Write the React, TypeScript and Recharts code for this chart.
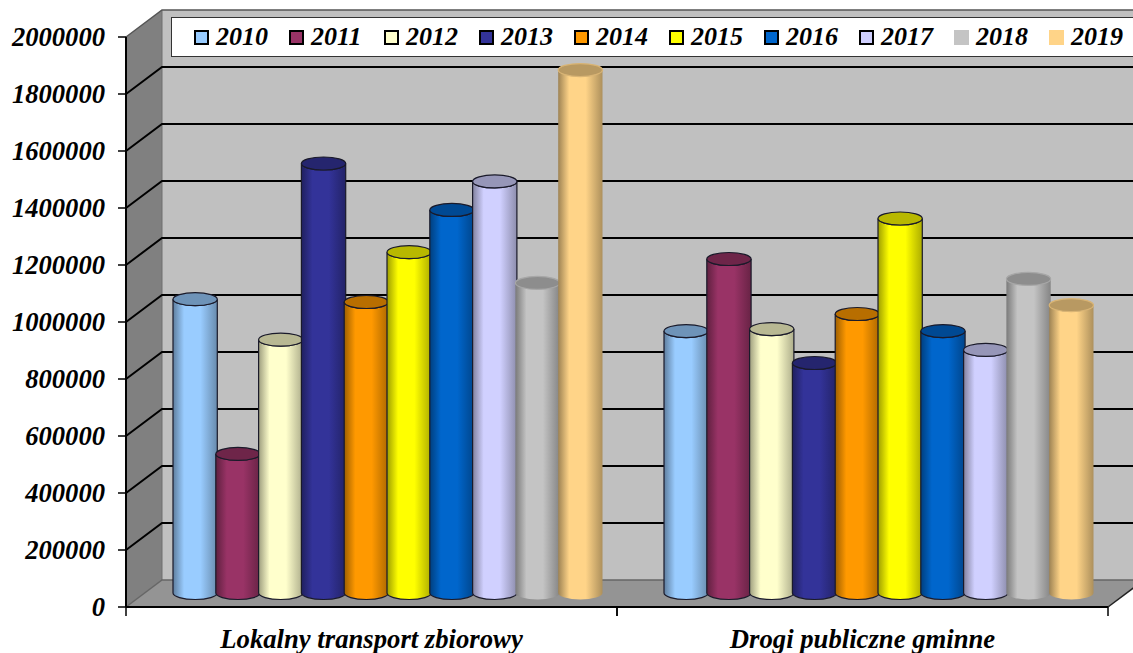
import { BarChart, Bar, XAxis, YAxis, CartesianGrid, Legend } from 'recharts';

const categories = ['Lokalny transport zbiorowy', 'Drogi publiczne gminne'];
const years = ['2010', '2011', '2012', '2013', '2014', '2015', '2016', '2017', '2018', '2019'];
const values2010 = [1031000, 919000];
const values2011 = [488000, 1172000];
const values2012 = [889000, 926000];
const values2013 = [1507000, 807000];
const values2014 = [1021000, 979000];
const values2015 = [1196000, 1314000];
const values2016 = [1344000, 919000];
const values2017 = [1444000, 853000];
const values2018 = [1088000, 1102000];
const values2019 = [1835000, 1010000];
const seriesValues = [
  values2010, values2011, values2012, values2013, values2014,
  values2015, values2016, values2017, values2018, values2019,
];
const colors = ['#99ccff', '#993366', '#ffffcc', '#333399', '#ff9900', '#ffff00', '#0066cc', '#d0d0ff', '#c4c4c4', '#ffd488'];
const yTicks = [0, 200000, 400000, 600000, 800000, 1000000, 1200000, 1400000, 1600000, 1800000, 2000000];

const data = categories.map((name, i) => {
  const row: Record<string, string | number> = { name };
  years.forEach((year, s) => {
    row[year] = seriesValues[s][i];
  });
  return row;
});

const WIDTH = 1133;
const HEIGHT = 653;
const LEFT = 126;
const RIGHT = 1108;
const TOP = 37;
const BOTTOM = 607;
// 3D projection of the box: back wall vs. front plane, bars stand half way
const DEPTH_X = 36;
const DEPTH_Y = 27;
const BAR_DX = 17;
const BAR_DY = 14;
const CAP_RY = 6.5;
const FONT = '"Liberation Serif", "Times New Roman", serif';

function shade(hex: string, k: number) {
  const n = parseInt(hex.slice(1), 16);
  const r = Math.round(((n >> 16) & 255) * k);
  const g = Math.round(((n >> 8) & 255) * k);
  const b = Math.round((n & 255) * k);
  return `rgb(${r},${g},${b})`;
}

// sits behind the transparent chart svg
function Walls() {
  const wx = LEFT + DEPTH_X;
  const wyTop = TOP - DEPTH_Y;
  const wyBottom = BOTTOM - DEPTH_Y;
  return (
    <svg width={WIDTH} height={HEIGHT} style={{ position: 'absolute', left: 0, top: 0 }}>
      <rect x={wx} y={wyTop} width={WIDTH - wx} height={wyBottom - wyTop} fill="#c0c0c0" />
      <polygon points={`${LEFT},${TOP} ${wx},${wyTop} ${wx},${wyBottom} ${LEFT},${BOTTOM}`} fill="#808080" />
      <polygon
        points={`${LEFT},${BOTTOM} ${wx},${wyBottom} ${RIGHT + DEPTH_X},${wyBottom} ${RIGHT},${BOTTOM}`}
        fill="#949494"
      />
      <line x1={wx} y1={wyTop} x2={wx} y2={wyBottom} stroke="#6e6e6e" strokeWidth={1} />
      <line x1={RIGHT} y1={BOTTOM} x2={RIGHT + DEPTH_X} y2={wyBottom} stroke="#222" strokeWidth={1.5} />
    </svg>
  );
}

// grid line running over the left wall and along the back wall
function GridLine(props: any) {
  const { x1, y1 } = props;
  const isFloor = Math.abs(y1 - BOTTOM) < 1;
  const isTop = Math.abs(y1 - TOP) < 1;
  const stroke = isFloor ? '#666' : isTop ? '#555' : '#000';
  const w = isFloor || isTop ? 1.5 : 2;
  return (
    <polyline
      points={`${x1},${y1} ${x1 + DEPTH_X},${y1 - DEPTH_Y} ${WIDTH},${y1 - DEPTH_Y}`}
      fill="none"
      stroke={stroke}
      strokeWidth={w}
    />
  );
}

function Cylinder(props: any) {
  const { x, y, width, height, seriesIndex } = props;
  const color = colors[seriesIndex];
  const outlined = seriesIndex < 8;
  const left = x + BAR_DX - 1;
  const right = x + width + BAR_DX + 0.5;
  const cx = (left + right) / 2;
  const rx = (right - left) / 2;
  const top = y - BAR_DY;
  const bottom = y + height - BAR_DY;
  const body = `M${left},${top} L${left},${bottom} A${rx},${CAP_RY} 0 0 0 ${right},${bottom} L${right},${top} A${rx},${CAP_RY} 0 0 1 ${left},${top} Z`;
  const line = outlined ? '#1a1a2a' : 'none';
  return (
    <g>
      <path d={body} fill={`url(#cyl-${seriesIndex})`} stroke={line} strokeWidth={1.2} />
      <ellipse
        cx={cx}
        cy={top}
        rx={rx}
        ry={CAP_RY}
        fill={shade(color, 0.72)}
        stroke={outlined ? '#1a1a2a' : shade(color, 0.85)}
        strokeWidth={1.2}
      />
    </g>
  );
}

function CategoryTick(props: any) {
  const { x, y, payload } = props;
  const half = (RIGHT - LEFT) / 4;
  return (
    <g>
      <line x1={x - half} y1={BOTTOM} x2={x - half} y2={BOTTOM + 9} stroke="#000" strokeWidth={1.5} />
      <line x1={x + half} y1={BOTTOM} x2={x + half} y2={BOTTOM + 9} stroke="#000" strokeWidth={1.5} />
      <text
        x={x}
        y={y + 33}
        textAnchor="middle"
        fontFamily={FONT}
        fontWeight="bold"
        fontStyle="italic"
        fontSize={26.7}
        fill="#000"
      >
        {payload.value}
      </text>
    </g>
  );
}

function LegendBox() {
  return (
    <div
      style={{
        boxSizing: 'border-box',
        width: 962,
        height: 40,
        background: '#fff',
        border: '1.5px solid #333',
        borderRight: 'none',
        display: 'flex',
        alignItems: 'center',
        paddingLeft: 22,
        fontFamily: FONT,
        fontWeight: 'bold',
        fontStyle: 'italic',
        fontSize: 26,
        color: '#000',
      }}
    >
      {years.map((year, i) => (
        <div key={year} style={{ width: 95, display: 'flex', alignItems: 'center', flex: 'none' }}>
          <span
            style={{
              boxSizing: 'border-box',
              display: 'inline-block',
              width: 15,
              height: 15,
              marginRight: 7,
              background: colors[i],
              border: i < 8 ? '2px solid #000' : 'none',
            }}
          />
          {year}
        </div>
      ))}
    </div>
  );
}

export default function App() {
  return (
    <div style={{ position: 'absolute', left: 0, top: 0, width: WIDTH, height: HEIGHT, background: '#fff' }}>
      <Walls />
      <BarChart
        width={WIDTH}
        height={HEIGHT}
        data={data}
        margin={{ top: TOP, right: WIDTH - RIGHT, bottom: 0, left: 0 }}
        barSize={42.8}
        barGap={0}
      >
        <defs>
          {colors.map((color, i) => (
            <linearGradient key={color} id={`cyl-${i}`} x1="0" y1="0" x2="1" y2="0">
              <stop offset="0%" stopColor={shade(color, 0.62)} />
              <stop offset="25%" stopColor={color} />
              <stop offset="62%" stopColor={color} />
              <stop offset="100%" stopColor={shade(color, 0.68)} />
            </linearGradient>
          ))}
        </defs>
        <CartesianGrid horizontal={(p: any) => <GridLine key={p.y1} {...p} />} vertical={false} syncWithTicks />
        <XAxis
          dataKey="name"
          axisLine={{ stroke: '#000', strokeWidth: 2 }}
          tickLine={false}
          tick={<CategoryTick />}
          height={HEIGHT - BOTTOM}
          interval={0}
        />
        <YAxis
          width={LEFT}
          domain={[0, 2000000]}
          ticks={yTicks}
          interval={0}
          axisLine={{ stroke: '#000', strokeWidth: 2 }}
          tickLine={{ stroke: '#000', strokeWidth: 1.5 }}
          tickSize={8}
          tickMargin={13}
          tick={{
            fontFamily: FONT,
            fontWeight: 'bold',
            fontStyle: 'italic',
            fontSize: 26.6,
            fill: '#000',
          }}
        />
        <Legend
          layout="horizontal"
          align="center"
          verticalAlign="middle"
          wrapperStyle={{ left: 171, top: 17, width: 962, height: 40 }}
          content={<LegendBox />}
        />
        {years.map((year, i) => (
          <Bar
            key={year}
            dataKey={year}
            fill={colors[i]}
            isAnimationActive={false}
            shape={(p: any) => <Cylinder {...p} seriesIndex={i} />}
          />
        ))}
      </BarChart>
    </div>
  );
}
